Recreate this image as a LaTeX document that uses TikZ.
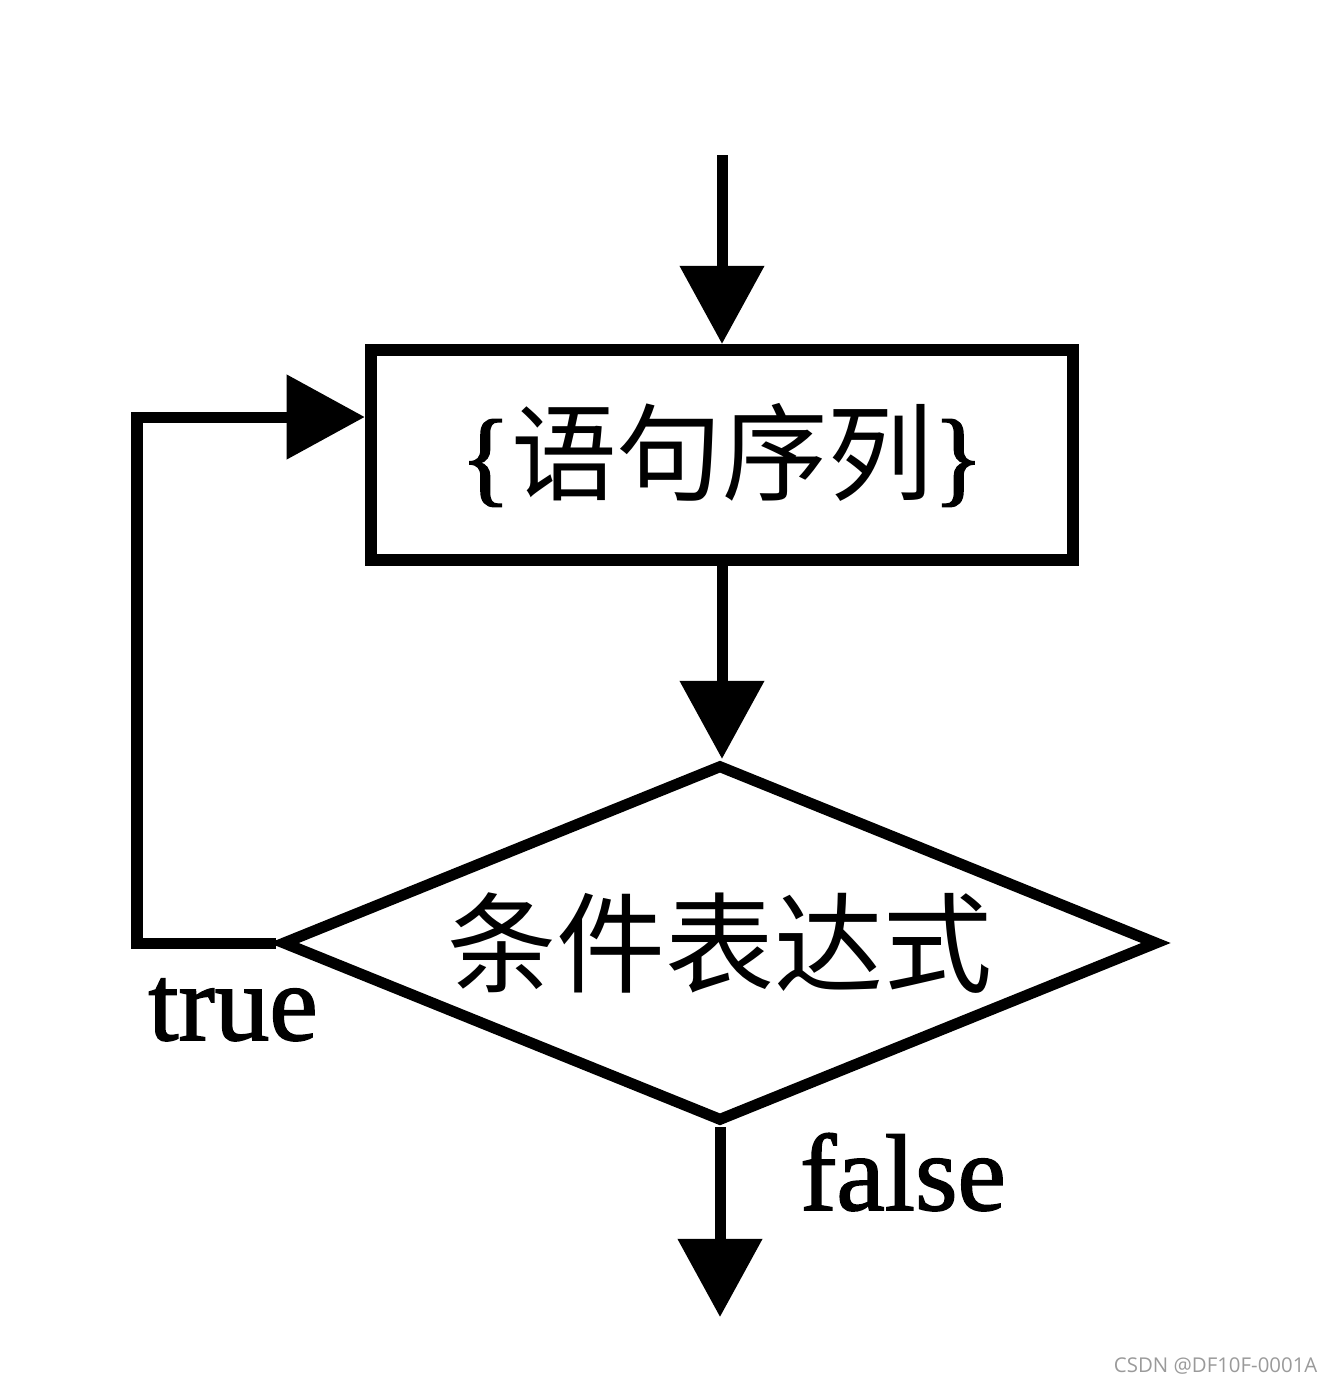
\documentclass[tikz,border=0pt]{standalone}
\usepackage{fontspec}
\setmainfont{Liberation Serif}
\newfontfamily\cjkfont{Noto Sans CJK SC}
\newfontfamily\tagfont{Liberation Serif}[FakeBold=1.5]
\newfontfamily\markfont{Open Sans}
\usepackage{tikz}
\usetikzlibrary{arrows.meta,positioning,shapes.geometric}
\definecolor{cline}{HTML}{000000}
\definecolor{cmark}{HTML}{9A9A9A}
\tikzset{
  stmt/.style={rectangle, draw=cline, line width=1.2mm, minimum width=7.02cm,
    minimum height=2.10cm, inner sep=0pt, font=\cjkfont\fontsize{30}{36}\selectfont},
  dec/.style={diamond, aspect=2.45, draw=cline, line width=1.1mm, minimum width=8.76cm,
    minimum height=3.57cm, inner sep=0pt, font=\cjkfont\fontsize{31}{36}\selectfont},
  tag/.style={font=\tagfont\fontsize{31}{36}\selectfont, inner sep=0pt, anchor=base},
  arr/.style={-{Triangle[length=7.8mm,width=8.2mm]}, line width=1.1mm, draw=cline},
}

\begin{document}
\begin{tikzpicture}[x=0.01cm, y=-0.01cm]
  \useasboundingbox (0,0) rectangle (1332,1384);
  \node[stmt] (body) at (722,455) {{\tagfont\{}语句序列{\tagfont\}}};
  \node[dec] (cond) at (720,943) {条件表达式};
  \node[tag] (yes) at (233,1040) {true};
  \node[tag] (no) at (903,1210) {false};
  \node[font=\markfont\fontsize{5.8}{7}\selectfont, text=cmark, anchor=base east,
    inner sep=0pt] (mark) at (1318,1372) {CSDN @DF10F-0001A};

  \coordinate (start) at (722,155);
  \coordinate (corner) at (137,417);
  \coordinate (exit) at (720,1317);

  \draw[arr] (start)--(body.north);
  \draw[arr] (body.south)--(body.south |- cond.north);
  \draw[arr] (cond.west) -| (corner) -- (body.west |- corner);
  \draw[arr] (cond.south)--(exit);
\end{tikzpicture}
\end{document}
